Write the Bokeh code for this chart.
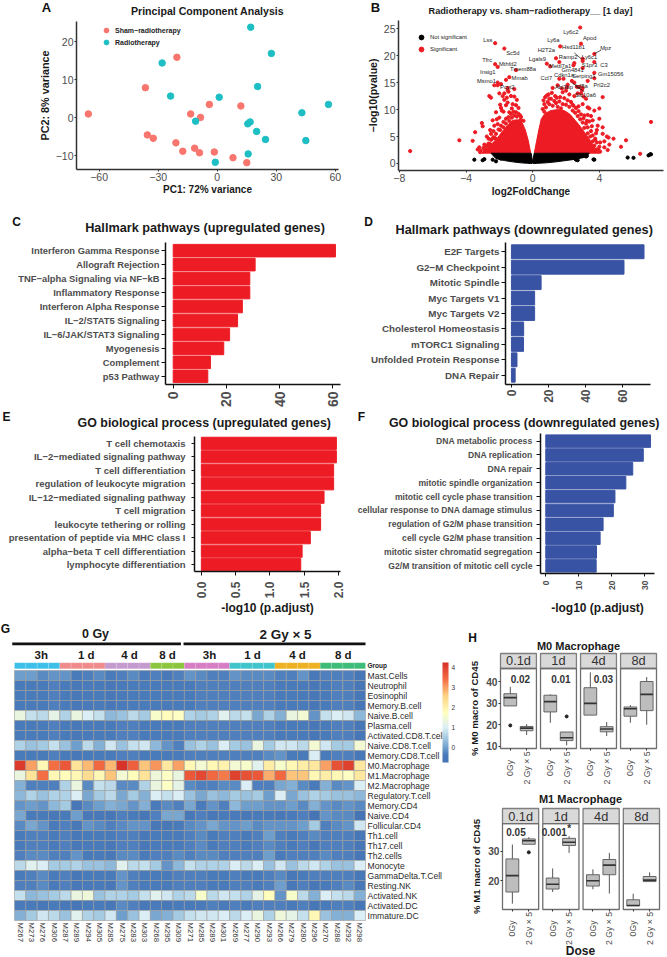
from math import pi
from bokeh.plotting import figure
from bokeh.layouts import column, row
from bokeh.models import (ColumnDataSource, FixedTicker, Label, Legend, LegendItem,
                          LinearColorMapper, ColorBar)
from bokeh.core.properties import value
from bokeh.transform import transform
from bokeh.embed import file_html
from bokeh.resources import INLINE

FONT = "Liberation Sans"
GREY = "#4d4d4d"
RED = "#ED1C24"
BLUE = "#3953A4"

# ---------- A: PCA ----------
sham_pc1 = [-65.5, -36.5, -20.5, -35.5, -32.5, -21, -17.5, -11.5, -9, -1.5, 8, 15, -13.5, -8.5, -4, 12]
sham_pc2 = [1, 7.9, 15.9, -4.5, -5.4, -6.6, -8.8, -8, -9.2, -9, -10.5, -11.8, 1, 0.1, 3.5, 3.1]
rt_pc1 = [17, 27.5, -28, 20.5, -23.7, 1, 56.5, 43, -11, 16.7, 15.5, 20, 24.5, 45, 15.7, -1]
rt_pc2 = [23.8, 16.9, 14.4, 8.2, 5.7, 5.4, 3.5, 1.3, -0.9, -1.1, -1.6, -3.6, -5.7, -6, -9.5, -11.7]

# ---------- B: volcano ----------
red_right_lfc = [0.1, 0.24, 0.38, 0.52, 0.75, 1.1, 1.5, 1.9, 2.25, 2.55, 2.85, 3.15, 3.45, 3.65, 3.9, 4.0]
red_right_p = [2, 4.2, 6.4, 8.3, 9.3, 9.8, 10, 9.8, 9.1, 8, 6.9, 5.6, 4.3, 3.3, 2.2, 1.9]
red_left_lfc = [-0.12, -0.26, -0.44, -0.62, -0.9, -1.2, -1.5, -1.8, -2.1, -2.4, -2.7, -3.0, -3.05]
red_left_p = [2, 4.2, 6.2, 7.5, 8.1, 8, 7.1, 6, 4.8, 3.8, 2.9, 2.1, 1.9]
black_band_lfc = [-2.5, -2.2, -1.7, -1.2, -0.7, -0.3, -0.03, 0, 0.03, 0.3, 0.8, 1.4, 2, 2.6, 3.2, 3.4, 0.09, 0, -0.09]
black_band_p = [1.9, 0.9, 0.55, 0.3, 0.12, 0.03, 0, 0.25, 0, 0.03, 0.12, 0.3, 0.55, 0.8, 1.2, 1.9, 1.9, 0.25, 1.9]
sig_lfc = [-7.35, -4.4, -3.6, -3.45, -3.05, -3.0, -2.75, -2.5, -3.2, -2.9, -2.7, -2.5, -2.4, -2.2, -2.3, -2.1, -2, -1.9,
           -2.6, -2.5, -1.8, -1.7, -1.6, -1.5, -1.3, -1.2, -1.1, -1.0, -0.95, -1.4, -2.25, -1.7, -2.25, -2.1, -1, -1.4,
           -1.6, -2.1, -2.3, -2.1, -1.9, -1.5, -1.5, -1.1, -2.0, -1.7, -1.45, -2.55, -2.45, -1.95, -1.85, -1.55, -1.25,
           -0.85, -0.75, -3.3, -2.85, -2.65, -2.35, -2.15, -1.75, -0.7,
           -0.55, -0.7, -0.85, -1.0, -1.15, -1.3, -1.45, -1.6, -1.75, -1.9, -2.05, -2.2, -2.35, -2.5, -2.65, -2.8, -2.95, -3.1,
           -0.95, -1.1, -1.25, -1.4, -1.6, -1.95, -2.25, -2.55, -2.85, -3.15, -0.75, -1.75,
           7.1, 5.6, 5.3, 4.85, 4.55, 4.45, 4.2, 4.2, 4.6, 4.3, 4.5, 4.2, 4.0, 3.7, 3.4, 3.6, 3.4, 3.0, 3.3, 3.9, 3.2,
           2.9, 2.7, 2.5, 2.2, 2.0, 1.8, 1.5, 1.2, 0.75, 1.0, 1.35, 1.6, 1.85, 2.35, 2.1, 2.8, 2.65, 3.0, 2.5, 3.3,
           2.85, 2.9, 1.65, 3.7, 1.4, 3.0, 3.0, 2.5, 2.45, 3.7, 1.6, 0.85, 1.05, 3.0, 3.7, 3.7, 3.3, 4.0, 3.5, 3.8,
           2.4, 2.75, 3.1, 3.25, 3.55, 3.75, 1.15, 0.95, 1.75, 2.05, 0.65, 0.85, 3.05, 2.95, 4.3, 3.95, 6.45, 4.05, 3.85,
           0.7, 0.9, 1.1, 1.3, 1.45, 1.65, 1.9, 2.1, 2.3, 2.45, 2.6, 2.75, 2.9, 3.05, 3.2, 3.3, 3.5, 3.6, 3.75, 3.85, 4.0,
           0.6, 0.8, 1.0, 1.2, 1.4, 1.6, 1.8, 2.0, 2.2, 2.4, 2.55, 2.7, 2.85, 3.0, 3.1, 3.3, 3.45, 3.6, 3.7, 3.85, 4.05,
           0.7, 1.5, 1.7]
sig_p = [2.3, 4.3, 4.2, 5.8, 7.5, 6.9, 5, 5.5, 3, 3.5, 3.2, 3, 8, 9.5, 7, 7.3, 8.5, 10.3,
         12.5, 12.2, 12.5, 11.8, 10.8, 11.3, 12.5, 11, 12.4, 10.8, 11.8, 9.5, 22.3, 21.3, 18.4, 17.9, 17.3, 16,
         15.5, 15, 14.5, 14.5, 14.7, 14, 13.6, 13.8, 13, 13, 13.3, 6.2, 4.5, 10.9, 9.8, 12.2, 10.2,
         10.3, 8.9, 2.6, 2.4, 4.6, 6, 8.2, 9.6, 8,
         7.9, 8.6, 9.2, 9.5, 9.6, 9.2, 8.6, 8.3, 7.7, 7, 6.3, 5.5, 4.9, 4.4, 3.7, 3.3, 2.9, 2.4,
         8.7, 8.9, 8.5, 7.9, 7.4, 6.2, 4.7, 3.6, 2.6, 2.1, 8, 6.7,
         7.7, 4.3, 3.1, 4.6, 4.8, 5, 6.7, 5.5, 3.5, 3, 2.5, 12.3, 10.2, 9.8, 10.2, 8, 7.8, 11, 9, 7, 12,
         13, 13, 12.5, 12.8, 13.5, 13.2, 14.5, 14, 12.3, 12, 12.5, 15.7, 15.7, 15.3, 14.6, 14.2, 14.2, 14, 15, 15.3,
         25.2, 22.2, 21.7, 20.3, 19.5, 19.4, 19, 18.6, 18.2, 18.8, 18.8, 18.5, 18, 17.7, 16.8, 15.8, 10.4, 8.3, 8.8, 5.6,
         10.9, 10.6, 8.9, 7.9, 6.9, 4.4, 13.1, 12.8, 13.9, 14.1, 11.7, 12.6, 12.4, 13.6, 4.1, 2.6, 1.8, 3.9, 6.2,
         11, 11.4, 12, 11.6, 12.2, 12.3, 12.1, 11.7, 11.4, 10.7, 10.3, 9.7, 9.1, 8.4, 7.4, 6.7, 6, 5.2, 4.6, 3.9, 3.1,
         10.1, 10.4, 11, 10.7, 11.2, 11.5, 11, 10.9, 10.5, 9.8, 9.4, 8.8, 8.2, 7.6, 6.6, 5.6, 5, 4.1, 3.3, 2.6, 2.2,
         9.6, 10.5, 10.2]
ns_lfc = [-3.5, -3.0, -2.9, -2.4, -2.2, -1.9, 3.2, 3.25, 3.7, 3.65, 2.6, 2.7, 5.7, 6.05, 6.95, 7.05, 7.1]
ns_p = [0.7, 0.6, 0.8, 0.7, 0.4, 0.9, 1.3, 1.4, 0.7, 0.75, 0.7, 0.6, 1.1, 1.05, 1.5, 1.7, 1.7]
gene_names = ["Ly6c2", "Apod", "Ly6a", "Hsd11b1", "Mpz", "H2T2a", "Sc5d", "Lss", "Ramp2", "Ly6c1", "Lgals9", "Tfrc", "S1pr3",
              "C3", "Mthfd2", "Mettl7a1", "Gm4841", "Tmem88a", "Insig1", "Gm15056", "Cdkn1a", "Serping1", "Ccl7", "Mmab",
              "Msmo1", "Prl2c2", "Pcyt2", "Abi3bp", "Igf8a", "Slc10a6"]
gene_lfc = [2.29, 3.42, 1.24, 2.45, 4.38, 0.82, -1.19, -2.69, 2.13, 3.41, 0.28, -2.73, 3.41, 4.28, -1.49, 1.65, 2.4, -0.58,
            -2.69, 4.68, 1.88, 3.07, 0.82, -0.78, -2.77, 4.14, -1.52, 1.88, 2.92, 3.17]
gene_p = [24.3, 23.2, 22.9, 21.5, 21.4, 21.1, 20.4, 22.9, 19.8, 19.8, 19.4, 19.1, 18.3, 18.3, 18.4, 18.1, 17.4, 17.5,
          17.0, 16.5, 16.4, 16.2, 15.8, 15.8, 15.2, 14.5, 14.1, 14.1, 14.3, 12.7]

# ---------- C-F: enrichment bars ----------
c_terms = ["Interferon Gamma Response", "Allograft Rejection", "TNF\u2212alpha Signaling via NF\u2212kB", "Inflammatory Response",
           "Interferon Alpha Response", "IL\u22122/STAT5 Signaling", "IL\u22126/JAK/STAT3 Signaling", "Myogenesis", "Complement", "p53 Pathway"]
c_vals = [61, 30.8, 28.8, 28.8, 26, 24.2, 21.2, 19, 14, 13]
d_terms = ["E2F Targets", "G2\u2212M Checkpoint", "Mitotic Spindle", "Myc Targets V1", "Myc Targets V2", "Cholesterol Homeostasis",
           "mTORC1 Signaling", "Unfolded Protein Response", "DNA Repair"]
d_vals = [71.5, 60.7, 16, 12.5, 12.5, 6.6, 6.5, 3, 2]
e_terms = ["T cell chemotaxis", "IL\u22122\u2212mediated signaling pathway", "T cell differentiation", "regulation of leukocyte migration",
           "IL\u221212\u2212mediated signaling pathway", "T cell migration", "leukocyte tethering or rolling",
           "presentation of peptide via MHC class I", "alpha\u2212beta T cell differentiation", "lymphocyte differentiation"]
e_vals = [1.97, 1.97, 1.93, 1.93, 1.79, 1.74, 1.74, 1.59, 1.47, 1.45]
f_terms = ["DNA metabolic process", "DNA replication", "DNA repair", "mitotic spindle organization", "mitotic cell cycle phase transition",
           "cellular response to DNA damage stimulus", "regulation of G2/M phase transition", "cell cycle G2/M phase transition",
           "mitotic sister chromatid segregation", "G2/M transition of mitotic cell cycle"]
f_vals = [31.8, 29.6, 26.4, 24.3, 21, 20.5, 17.4, 16.5, 15.4, 15.3]

# ---------- G: heatmap ----------
samples = ["M267", "M273", "M276", "M306", "M287", "M289", "M294", "M305", "M285", "M275", "M283", "M303", "M268", "M295", "M309",
           "M271", "M285", "M289", "M301", "M269", "M277", "M290", "M293", "M266", "M279", "M280", "M296", "M270", "M288", "M292", "M298"]
cell_types = ["Mast.Cells", "Neutrophil", "Eosinophil", "Memory.B.cell", "Naive.B.cell", "Plasma.cell", "Activated.CD8.T.cell",
              "Naive.CD8.T.cell", "Memory.CD8.T.cell", "M0.Macrophage", "M1.Macrophage", "M2.Macrophage", "Regulatory.T.cell",
              "Memory.CD4", "Naive.CD4", "Follicular.CD4", "Th1.cell", "Th17.cell", "Th2.cells", "Monocyte", "GammaDelta.T.Cell",
              "Resting.NK", "Activated.NK", "Activated.DC", "Immature.DC"]
heat_values = [
 [0.0,0.0,-0.2,-0.1,-0.1,-0.4,-0.3,-0.2,-0.4,-0.3,-0.2,-0.4,-0.3,-0.5,-0.3,-0.1,-0.2,-0.3,-0.3,-0.1,-0.2,-0.2,-0.2,-0.3,-0.3,-0.1,-0.5,-0.3,-0.3,-0.3,-0.6],
 [-0.4,-0.4,-0.4,-0.3,-0.4,-0.5,-0.4,-0.4,-0.5,-0.4,-0.4,-0.4,-0.4,-0.4,-0.4,-0.4,-0.3,-0.3,-0.3,-0.3,-0.3,-0.3,-0.3,-0.4,-0.4,-0.4,-0.6,-0.4,-0.3,-0.3,-0.6],
 [-0.4,-0.4,-0.4,-0.3,-0.4,-0.5,-0.4,-0.4,-0.5,-0.4,-0.4,-0.4,-0.4,-0.4,-0.4,-0.4,-0.3,-0.3,-0.3,-0.3,-0.3,-0.3,-0.3,-0.4,-0.4,-0.4,-0.6,-0.4,-0.3,-0.3,-0.6],
 [-0.4,-0.4,-0.4,-0.3,-0.4,-0.5,-0.4,-0.4,-0.5,-0.4,-0.4,-0.4,-0.4,-0.4,-0.4,-0.4,-0.3,-0.3,-0.3,-0.3,-0.3,-0.3,-0.3,-0.4,-0.4,-0.4,-0.6,-0.4,-0.3,-0.3,-0.6],
 [1.3,0.8,0.7,1.2,0.6,1.3,1.0,0.8,0.3,0.4,0.7,0.5,1.6,1.8,1.7,0.6,0.5,0.6,1.1,0.7,0.8,0.1,0.6,0.2,1.3,1.5,-0.1,0.8,1.0,0.9,0.3],
 [-0.4,-0.4,-0.4,-0.3,-0.4,-0.5,-0.4,-0.4,-0.4,-0.3,-0.3,-0.4,-0.4,-0.4,-0.4,-0.3,-0.3,-0.3,-0.3,-0.3,-0.3,-0.3,-0.3,-0.4,-0.4,-0.4,-0.6,-0.4,-0.3,-0.3,-0.6],
 [-0.4,-0.4,-0.4,-0.3,-0.4,-0.5,-0.4,-0.4,-0.4,-0.3,-0.3,-0.4,-0.4,-0.4,-0.4,-0.3,-0.3,-0.3,-0.3,-0.3,-0.3,-0.3,-0.3,-0.4,-0.4,-0.4,-0.6,-0.4,-0.3,-0.3,-0.6],
 [0.6,0.4,0.5,0.8,0.4,0.0,0.7,0.2,0.9,0.4,0.8,0.9,0.3,-0.1,-0.3,0.4,0.6,0.4,1.0,0.5,0.4,1.3,0.5,0.9,0.9,0.7,1.5,0.9,0.5,0.5,1.5],
 [-0.4,-0.4,-0.4,-0.3,-0.4,-0.5,-0.4,-0.4,-0.4,-0.3,-0.3,-0.4,-0.4,-0.4,-0.4,-0.3,-0.3,-0.3,-0.3,-0.3,-0.3,-0.3,-0.2,-0.1,-0.4,-0.4,1.0,-0.4,-0.3,-0.3,-0.5],
 [4.1,3.0,1.9,3.4,3.7,2.3,2.8,3.5,2.8,4.2,3.6,2.7,3.1,2.2,3.0,1.9,1.5,1.9,2.0,1.5,1.6,1.1,2.1,1.6,1.9,2.1,2.2,3.0,3.8,4.0,2.2],
 [1.3,2.3,3.4,1.9,1.8,1.9,2.4,1.9,2.7,1.5,1.8,2.3,1.4,1.7,1.3,3.7,3.9,3.5,3.3,4.0,3.8,3.7,2.9,3.5,2.7,2.7,1.9,2.1,1.9,1.7,2.2],
 [0.2,-0.3,-0.3,-0.3,0.6,1.3,-0.2,0.8,0.7,-0.2,-0.2,0.6,1.3,1.7,1.2,-0.2,-0.3,-0.3,-0.2,-0.2,1.0,-0.3,-0.3,0.1,0.2,-0.2,-0.4,0.2,-0.2,-0.1,1.0],
 [0.3,0.6,0.4,0.6,0.6,1.0,0.1,0.5,0.7,0.1,0.5,0.2,1.0,0.8,1.0,0.4,0.1,0.4,0.3,0.5,0.4,0.5,0.0,1.0,0.1,0.4,0.6,0.5,0.4,0.4,0.3],
 [-0.1,0.0,-0.1,0.3,0.5,-0.6,-0.2,0.0,0.2,0.1,-0.1,0.2,-0.4,-0.2,-0.3,0.1,-0.4,-0.1,-0.3,0.3,0.0,0.0,-0.1,-0.1,0.0,-0.2,0.2,-0.1,-0.2,-0.1,-0.2],
 [0.1,-0.4,-0.4,-0.5,-0.4,0.0,-0.5,-0.5,-0.6,-0.3,-0.4,-0.6,-0.3,0.1,0.1,-0.5,-0.3,-0.5,-0.4,-0.4,-0.5,-0.4,-0.4,-0.5,-0.4,-0.3,-0.7,-0.1,-0.2,-0.2,-0.7],
 [-0.2,0.1,-0.1,-0.4,-0.3,-0.5,-0.1,-0.2,-0.3,-0.2,-0.1,-0.1,-0.5,-0.5,-0.4,-0.2,-0.1,0.1,-0.1,-0.1,0.0,-0.2,-0.1,-0.1,-0.1,0.0,0.5,-0.3,-0.2,-0.1,0.9],
 [-0.4,-0.3,-0.3,-0.4,-0.3,-0.5,-0.4,-0.4,-0.4,-0.3,-0.3,-0.5,-0.4,-0.4,-0.4,-0.3,-0.2,-0.4,-0.3,-0.3,-0.4,-0.3,0.0,-0.3,-0.4,-0.3,-0.2,-0.3,-0.3,-0.3,-0.6],
 [-0.4,-0.3,-0.3,-0.4,-0.3,-0.5,-0.4,-0.4,-0.5,-0.3,-0.3,-0.5,-0.4,-0.4,-0.4,-0.3,-0.2,-0.4,-0.3,-0.3,-0.4,-0.3,-0.2,-0.3,-0.4,-0.3,-0.6,-0.3,-0.3,-0.3,-0.6],
 [-0.3,-0.2,-0.2,-0.3,-0.3,-0.1,-0.4,-0.4,-0.5,-0.2,-0.2,-0.4,-0.3,-0.3,-0.2,-0.3,-0.2,-0.2,-0.3,-0.3,-0.3,-0.3,0.0,-0.4,-0.3,-0.3,-0.3,-0.2,-0.3,-0.3,-0.6],
 [0.7,1.1,1.0,0.5,0.5,0.6,0.4,0.4,0.3,1.1,0.7,0.8,0.5,-0.1,0.3,0.8,0.6,0.6,0.6,1.0,0.7,1.0,0.4,0.9,0.4,0.7,0.9,0.6,0.4,0.4,1.0],
 [-0.4,-0.3,-0.2,-0.4,-0.3,-0.6,-0.4,-0.4,-0.4,-0.1,-0.3,-0.4,-0.4,-0.4,-0.3,-0.3,-0.3,-0.4,-0.4,-0.3,-0.4,-0.4,-0.3,-0.2,-0.5,-0.4,-0.3,-0.3,-0.3,-0.3,-0.5],
 [-0.3,-0.3,-0.2,-0.4,-0.3,-0.5,-0.4,-0.4,-0.5,-0.1,-0.3,-0.4,-0.4,-0.4,-0.3,-0.3,-0.3,-0.4,-0.4,-0.3,-0.3,-0.4,-0.3,0.0,-0.5,-0.3,-0.6,-0.4,-0.3,-0.2,-0.5],
 [0.8,0.3,0.4,0.5,0.7,1.3,1.4,0.4,0.6,0.6,0.5,0.8,1.1,0.9,0.6,0.7,1.6,0.7,0.9,0.8,0.6,1.2,1.8,-0.1,1.6,0.7,0.2,1.0,0.8,0.7,0.2],
 [-0.4,-0.4,-0.5,-0.4,-0.5,-0.6,-0.4,-0.4,-0.5,-0.2,-0.3,-0.5,-0.4,-0.5,-0.4,-0.4,-0.4,-0.3,-0.4,-0.3,-0.4,-0.3,-0.3,-0.3,-0.4,-0.3,-0.6,-0.4,-0.3,-0.3,-0.6],
 [0.2,0.5,0.9,0.7,0.4,1.1,0.6,0.5,0.9,0.0,0.4,1.0,0.1,0.2,0.5,0.8,0.9,0.9,1.0,0.7,1.0,1.3,0.6,1.4,1.2,0.8,1.9,0.4,0.2,0.2,1.0],
]
group_names = ["3h", "1 d", "4 d", "8 d", "3h", "1 d", "4 d", "8 d"]
group_sizes = [4, 4, 4, 3, 4, 4, 4, 4]
group_colors = ["#3CC0EA", "#F08B8B", "#C49ACF", "#8CC63F", "#D67DC4", "#40C4CC", "#EDB121", "#3DBB78"]
heat_stops = [-0.73, -0.35, 0.0, 0.5, 1.0, 1.76, 2.59, 3.42, 4.25]
heat_stop_colors = ["#4575B4", "#4A7BBB", "#6F9FCC", "#A5CBE2", "#DCEFF5", "#FFFFBF", "#FDD384", "#F46D43", "#D73027"]

# ---------- H: boxplots (facet order 0.1d,1d,4d,8d; each 0Gy then 2 Gy x 5) ----------
facets = ["0.1d", "1d", "4d", "8d"]
doses = ["0Gy", "2 Gy \u00d7 5"]
m0_low = [28.8, 15.2, 20.9, 10.4, 24.5, 14.7, 20.9, 20]
m0_q1 = [28.8, 17.2, 26, 12.6, 24.5, 16.7, 24, 26.6]
m0_med = [32.7, 18.4, 30.8, 13.9, 30, 18, 27.5, 34.2]
m0_q3 = [34.5, 19.2, 33.8, 16.6, 37.3, 19.1, 28.3, 40.2]
m0_high = [37.7, 20.3, 34.2, 16.6, 44.5, 21.3, 29.2, 42.3]
m0_out_idx = [0, 3]
m0_out_val = [19.7, 23.9]
m0_p = ["0.02", "0.01", "0.03"]
m1_low = [12.4, 32.3, 16.3, 29.4, 17.2, 15.8, 11.7, 19.8]
m1_q1 = [16.3, 32.3, 17.3, 31.9, 18.3, 22.1, 11.7, 19.8]
m1_med = [21.8, 33.5, 18.9, 33, 20.1, 25.3, 11.8, 20.3]
m1_q3 = [27.4, 34.1, 21, 34.3, 22.1, 27.2, 13.7, 21.5]
m1_high = [32.2, 34.7, 24.2, 35, 23.9, 29.4, 15.7, 22.9]
m1_out_idx = [1]
m1_out_val = [29.6]
m1_p = ["0.05", "0.001", "*"]


def panel(x0, y0, x1, y1, fl, ft, fr, fb, xd, yd, right_axis=False):
    """A canvas-filling frame whose data ranges are extended so that xd/yd land on the pixel box fl..fr, ft..fb.
    Axes sit at a fixed location on that box, so text may lie anywhere on the canvas."""
    sx = (xd[1] - xd[0]) / (fr - fl)
    sy = (yd[1] - yd[0]) / (fb - ft)
    p = figure(width=x1 - x0, height=y1 - y0, min_border=0,
               x_range=(xd[0] - (fl - x0) * sx, xd[1] + (x1 - fr) * sx),
               y_range=(yd[0] - (y1 - fb) * sy, yd[1] + (ft - y0) * sy),
               y_axis_location="right" if right_axis else "left",
               output_backend="svg", toolbar_location=None)
    p.outline_line_color = None
    p.grid.visible = False
    p.background_fill_color = None
    p.border_fill_color = None
    p.xaxis.fixed_location = yd[0]
    p.xaxis.bounds = xd
    p.yaxis.fixed_location = xd[1] if right_axis else xd[0]
    p.yaxis.bounds = yd

    def lab(x, y, text, size, style="bold", color="#1a1a1a", align="center"):
        p.add_layout(Label(x=x - x0, y=y1 - y, x_units="screen", y_units="screen", text=text,
                           text_font=FONT, text_font_size=f"{size}px", text_font_style=style, text_color=color,
                           text_align=align, text_baseline="middle"))
    return p, lab


def style_axes(p, size, font_style="normal", color=GREY, line="#333333", tick=2, standoff=2):
    for ax in list(p.xaxis) + list(p.yaxis):
        ax.major_label_text_font = FONT
        ax.major_label_text_font_size = f"{size}px"
        ax.major_label_text_font_style = font_style
        ax.major_label_text_color = color
        ax.major_label_standoff = standoff
        ax.axis_label_text_font = FONT
        ax.axis_label_text_font_style = "bold"
        ax.axis_label_text_color = "#1a1a1a"
        ax.minor_tick_line_color = None
        ax.major_tick_in = 0
        ax.major_tick_out = tick
        ax.major_tick_line_color = line
        ax.axis_line_color = line
        ax.axis_line_width = 1.5


# ---- A ----
a, la = panel(0, 0, 345, 210, 76, 21, 338, 169, (-71.5, 61.6), (-13.6, 25.3))
style_axes(a, 10.5, standoff=1)
a.xaxis.ticker = FixedTicker(ticks=[-60, -30, 0, 30, 60])
a.yaxis.ticker = FixedTicker(ticks=[-10, 0, 10, 20])
a.xaxis.axis_label = "PC1: 72% variance"
a.yaxis.axis_label = "PC2: 8% variance"
a.xaxis.axis_label_text_font_size = "10px"
a.yaxis.axis_label_text_font_size = "10.8px"
a.xaxis.axis_label_standoff = 0
a.yaxis.axis_label_standoff = 2
ra1 = a.scatter(sham_pc1, sham_pc2, size=6.5, color="#F8766D")
ra2 = a.scatter(rt_pc1, rt_pc2, size=6.5, color="#1DBFC4")
a.add_layout(Legend(items=[LegendItem(label="Sham\u2212radiotherapy", renderers=[ra1]), LegendItem(label="Radiotherapy", renderers=[ra2])],
                    location=(99, 162), background_fill_alpha=0, border_line_color=None, label_text_font=FONT,
                    label_text_font_size="7px", label_text_font_style="bold", label_text_color="#222222",
                    spacing=0, padding=0, margin=0, glyph_width=14, glyph_height=12, label_height=12, label_standoff=2))
la(207, 10, "Principal Component Analysis", 10.6)
la(46, 7, "A", 13, color="#111111")

# ---- B ----
b, lb = panel(345, 0, 667, 210, 398, 20, 663, 170, (-8.05, 7.85), (-1.3, 26.5))
style_axes(b, 10.5, standoff=1)
b.xaxis.ticker = FixedTicker(ticks=[-8, -4, 0, 4])
b.yaxis.ticker = FixedTicker(ticks=[0, 5, 10, 15, 20, 25])
b.xaxis.axis_label = "log2FoldChange"
b.yaxis.axis_label = "\u2212log10(pvalue)"
b.xaxis.axis_label_text_font_size = "10px"
b.yaxis.axis_label_text_font_size = "10.5px"
b.xaxis.axis_label_standoff = 1
b.yaxis.axis_label_standoff = 2
b.patch(red_right_lfc, red_right_p, color=RED)
b.patch(red_left_lfc, red_left_p, color=RED)
b.patch(black_band_lfc, black_band_p, color="#000000")
rb2 = b.scatter(sig_lfc, sig_p, size=3.2, color=RED)
rb1 = b.scatter(ns_lfc, ns_p, size=3.2, color="#000000")
b.text(gene_lfc, gene_p, text=gene_names, text_font=value(FONT), text_font_size="5.8px", text_color="#222222",
       text_align="center", text_baseline="middle")
b.segment(x0=[3.68, 2.5, 2.35], y0=[20.3, 20.5, 15.0], x1=[4.1, 2.95, 3.1], y1=[21.0, 19.3, 13.3], line_color="#111111", line_width=0.7)
b.add_layout(Legend(items=[LegendItem(label="Not significant", renderers=[rb1]), LegendItem(label="Significant", renderers=[rb2])],
                    location=(69, 155), background_fill_alpha=0, border_line_color=None, label_text_font=FONT,
                    label_text_font_size="5.9px", label_text_color="#222222",
                    spacing=0, padding=0, margin=0, glyph_width=14, glyph_height=12, label_height=12, label_standoff=2))
lb(530, 10, "Radiotherapy vs. sham\u2212radiotherapy__ [1 day]", 9.2)
lb(375, 7, "B", 13, color="#111111")


def bars(terms, vals, color, box, frame, xd, ticks, lab_size, tick_size, pad, x_tick, x_off, y_tick, y_off):
    n = len(terms)
    yd = (-0.5 - pad / 2, n - 0.5 + pad / 2)
    p, l = panel(*box, *frame, xd, yd)
    style_axes(p, tick_size, font_style="bold", line="#111111")
    p.xaxis.ticker = FixedTicker(ticks=ticks)
    p.xaxis.major_label_orientation = pi / 2
    p.xaxis.major_tick_out = x_tick
    p.xaxis.major_label_standoff = x_off
    pos = [n - 1 - i for i in range(n)]
    p.yaxis.ticker = FixedTicker(ticks=pos)
    p.yaxis.major_label_overrides = dict(zip(pos, terms))
    p.yaxis.major_label_text_font_size = f"{lab_size}px"
    p.yaxis.major_tick_out = y_tick
    p.yaxis.major_label_standoff = y_off
    p.hbar(y=pos, right=vals, left=0, height=0.9, color=color)
    return p, l


# ---- C ----
c, lc = bars(c_terms, c_vals, RED, (0, 210, 345, 409), (165, 242, 340, 384), (-2.9, 62.9), [0, 20, 40, 60], 9.4, 14, 0.17, 4, 3, 4, 2)
lc(204.5, 227.3, "Hallmark pathways (upregulated genes)", 12.7)
lc(16, 221.7, "C", 12, color="#111111")

# ---- D ----
d, ld = bars(d_terms, d_vals, BLUE, (345, 210, 667, 409), (505, 242, 650, 384), (-3.2, 75), [0, 20, 40, 60], 9.8, 12, 0.2, 3, 2, 4, 2)
ld(523.7, 229, "Hallmark pathways (downregulated genes)", 12.7)
ld(368, 221.7, "D", 12, color="#111111")

# ---- E ----
e, le = bars(e_terms, e_vals, RED, (0, 409, 347, 620), (194, 436, 340, 571), (-0.1, 2.03), [0, 0.5, 1, 1.5, 2], 9.5, 12, 0.01, 4, 6, 3, 6)
e.xaxis.major_label_overrides = {0: "0.0", 0.5: "0.5", 1: "1.0", 1.5: "1.5", 2: "2.0"}
e.xaxis.axis_label = "-log10 (p.adjust)"
e.xaxis.axis_label_text_font_size = "12px"
e.xaxis.axis_label_standoff = 0
le(203.8, 422, "GO biological process (upregulated genes)", 12.4)
le(6, 416, "E", 12, color="#111111")

# ---- F ----
f, lf = bars(f_terms, f_vals, BLUE, (347, 409, 667, 620), (540, 433, 654, 573), (-1.6, 33), [0, 10, 20, 30], 8.6, 8.5, 0.1, 3, 4, 4, 4)
f.xaxis.axis_label = "-log10 (p.adjust)"
f.xaxis.axis_label_text_font_size = "12px"
f.xaxis.axis_label_standoff = 8
lf(523.7, 422.7, "GO biological process (downregulated genes)", 12.4)
lf(361, 416, "F", 12, color="#111111")


# ---- G ----
def hex2rgb(h):
    return [int(h[i:i + 2], 16) for i in (1, 3, 5)]


palette = []
n_colors = 256
for k in range(n_colors):
    v = heat_stops[0] + (heat_stops[-1] - heat_stops[0]) * k / (n_colors - 1)
    for j in range(len(heat_stops) - 1):
        if v <= heat_stops[j + 1] or j == len(heat_stops) - 2:
            t = (v - heat_stops[j]) / (heat_stops[j + 1] - heat_stops[j])
            c0, c1 = hex2rgb(heat_stop_colors[j]), hex2rgb(heat_stop_colors[j + 1])
            palette.append("#%02x%02x%02x" % tuple(round(c0[m] + (c1[m] - c0[m]) * t) for m in range(3)))
            break
mapper = LinearColorMapper(palette=palette, low=heat_stops[0], high=heat_stops[-1])

g, lg = panel(0, 620, 460, 957, 14, 625, 365, 920, (-0.5, 30.5), (-0.5, 29), right_axis=True)
style_axes(g, 8.6, color="#2b2b2b")
g.xaxis.ticker = FixedTicker(ticks=list(range(len(samples))))
g.xaxis.major_label_overrides = {i: s for i, s in enumerate(samples)}
g.xaxis.major_label_orientation = -pi / 2
g.xaxis.major_label_text_font_size = "7.8px"
n_rows = len(cell_types)
g.yaxis.ticker = FixedTicker(ticks=list(range(n_rows)))
g.yaxis.major_label_overrides = {n_rows - 1 - i: s for i, s in enumerate(cell_types)}
for ax in list(g.xaxis) + list(g.yaxis):
    ax.axis_line_color = None
    ax.major_tick_line_color = None
    ax.major_tick_out = 0
    ax.major_label_standoff = 2
hx, hy, hv = [], [], []
for i, vals in enumerate(heat_values):
    for j, v in enumerate(vals):
        hx.append(j)
        hy.append(n_rows - 1 - i)
        hv.append(v)
g.rect(x="x", y="y", width=1, height=1, source=ColumnDataSource(dict(x=hx, y=hy, v=hv)),
       fill_color=transform("v", mapper), line_color="#9c9c9c", line_width=0.6)
start = 0
gx, gc = [], []
for sz, col in zip(group_sizes, group_colors):
    for q in range(sz):
        gx.append(start + q)
        gc.append(col)
    start += sz
g.rect(x=gx, y=[24.97] * len(gx), width=1, height=0.6, fill_color=gc, line_color="#ffffff", line_alpha=0.25, line_width=0.5)
cent_px = [40.7, 85.7, 129, 167, 209, 252, 297, 342.7]
for name, px in zip(group_names, cent_px):
    lg(px, 654, name, 11.5)
lg(95, 633.5, "0 Gy", 12.5)
lg(285, 633.5, "2 Gy \u00d7 5", 13.5)
g.segment(x0=[-0.7, 14.43], y0=[27.17, 27.17], x1=[14.2, 30.5], y1=[27.17, 27.17], line_color="#111111", line_width=2.7)
lg(367, 665.3, "Group", 6.5, align="left")
lg(5, 628, "G", 12, color="#111111")
cb = ColorBar(color_mapper=mapper, location=(442, 195), width=6, height=100, padding=0, margin=0,
              background_fill_alpha=0, ticker=FixedTicker(ticks=[0, 1, 2, 3, 4]), major_tick_line_color=None,
              major_label_text_font=FONT, major_label_text_font_size="6.5px", major_label_text_color="#333333",
              label_standoff=3, bar_line_color=None)
g.add_layout(cb)


# ---- H ----
def box_panel(box, frame, yd, strip_low, low, q1, med, q3, high, out_idx, out_val, yticks, ylabel,
              p_text, p_x, p_y, dose_y, xlabel=None):
    facet_w, gap = 2.2, 0.25
    p, l = panel(*box, *frame, (0, 4 * facet_w + 3 * gap), yd)
    style_axes(p, 8.7, line="#333333", standoff=1)
    pos = []
    for i in range(4):
        s = i * (facet_w + gap)
        pos += [round(s + 0.6, 2), round(s + 1.6, 2)]
        p.quad(left=s, right=s + facet_w, bottom=strip_low, top=yd[1], fill_color="#D9D9D9", line_color="#7f7f7f", line_width=1.3)
        p.quad(left=s, right=s + facet_w, bottom=yd[0], top=strip_low, fill_color=None, line_color="#6f6f6f", line_width=1.3)
        p.text([s + facet_w / 2], [(strip_low + yd[1]) / 2], text=[facets[i]], text_font=value(FONT), text_font_size="12.8px",
               text_color="#333333", text_align="center", text_baseline="middle")
    p.xaxis.ticker = FixedTicker(ticks=pos)
    p.xaxis.major_label_overrides = {v: "" for v in pos}
    p.text(pos, [dose_y] * len(pos), text=[doses[i % 2] for i in range(len(pos))], angle=pi / 2, text_font=value(FONT),
           text_font_size="8.7px", text_color=GREY, text_align="center", text_baseline="middle")
    p.yaxis.ticker = FixedTicker(ticks=yticks)
    p.yaxis.bounds = (yd[0], strip_low)
    p.yaxis.major_label_text_font_style = "bold"
    p.yaxis.major_label_text_font_size = "10.2px"
    p.yaxis.axis_line_color = None
    p.xaxis.axis_line_color = None
    p.yaxis.axis_label = ylabel
    p.yaxis.axis_label_text_font_size = "9.6px"
    p.yaxis.axis_label_standoff = 3
    if xlabel:
        l(580, 950, xlabel, 12)
    w = 0.39
    p.segment(x0=pos, x1=pos, y0=low, y1=high, line_color="#555555", line_width=1)
    p.quad(left=[v - w for v in pos], right=[v + w for v in pos], bottom=q1, top=q3, fill_color="#BDBDBD", line_color="#666666", line_width=1)
    p.segment(x0=[v - w for v in pos], x1=[v + w for v in pos], y0=med, y1=med, line_color="#333333", line_width=1.6)
    p.scatter([pos[i] for i in out_idx], out_val, size=3, color="#222222")
    p.text(p_x, p_y, text=p_text, text_font=value(FONT), text_font_size="10px",
           text_font_style="bold", text_color="#333333", text_align="center", text_baseline="middle")
    return p, l


h1, lh1 = box_panel((460, 620, 667, 785), (500, 653, 656, 748), (8.9, 53.3), 46.3, m0_low, m0_q1, m0_med, m0_q3, m0_high,
                    m0_out_idx, m0_out_val, [10, 20, 30, 40], "% M0 macro of CD45", m0_p, [1.22, 3.7, 6.3], [41.4, 41.4, 41.4], -0.2)
lh1(578, 645, "M0 Macrophage", 11)
lh1(472, 637.7, "H", 12, color="#111111")
h2, lh2 = box_panel((460, 785, 667, 957), (502, 808, 659, 909), (10.44, 44.3), 39.2, m1_low, m1_q1, m1_med, m1_q3, m1_high,
                    m1_out_idx, m1_out_val, [20, 30], "% M1 macro of CD45", m1_p, [0.82, 3.15, 4.05], [36.4, 36.4, 37.5], 4.1, xlabel="Dose")
lh2(580, 798.7, "M1 Macrophage", 11)

root = column(row(a, b, spacing=0), row(c, d, spacing=0), row(e, f, spacing=0),
              row(g, column(h1, h2, spacing=0), spacing=0), spacing=0)
open("out.html", "w").write(file_html(root, INLINE))
